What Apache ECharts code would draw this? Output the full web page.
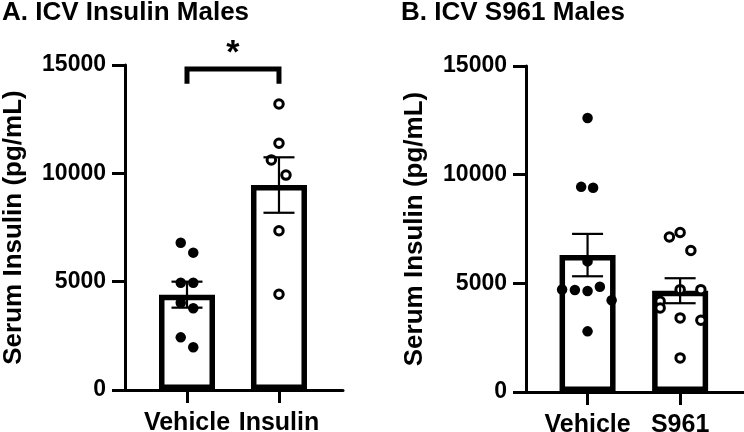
<!DOCTYPE html>
<html>
<head>
<meta charset="utf-8">
<script src="https://cdn.jsdelivr.net/npm/echarts@6/dist/echarts.min.js"></script>
<style>
html,body{margin:0;padding:0;background:#fff;}
#chart{width:744px;height:432px;}
</style>
</head>
<body>
<div id="chart"></div>
<script>
// ---------- data ----------
const titles = ['A. ICV Insulin Males', 'B. ICV S961 Males'];
const yAxisName = 'Serum Insulin (pg/mL)';
const yMin = 0, yMax = 15000, yStep = 5000;

const catsA = ['Vehicle', 'Insulin'];
const meanA = [4400, 9460];
const semA = [600, 1280];
const ptsA_vehicle = [6800, 6340, 4950, 4950, 4030, 3770, 2430, 1970];
const ptsA_insulin = [13200, 11390, 10620, 9920, 7350, 4420];

const catsB = ['Vehicle', 'S961'];
const meanB = [6300, 4660];
const semB = [975, 575];
const ptsB_vehicle = [12610, 9440, 9400, 6010, 4720, 4690, 4650, 4840, 4220, 2790];
const ptsB_s961 = [7130, 7340, 6510, 4710, 4710, 4170, 3870, 3410, 3300, 1570];

const sigA = { from: 1, to: 2, level: 14820, leg: 14130, label: '*' };

// horizontal scatter spread of the dots (in category units)
const jitA_vehicle = [-0.068, 0.068, -0.068, 0.068, -0.068, 0.068, -0.068, 0.068];
const jitA_insulin = [0, 0, -0.083, 0.076, 0, 0];
const jitB_vehicle = [0, -0.069, 0.06, 0, -0.275, -0.137, 0, 0.133, 0.26, 0];
const jitB_s961 = [-0.116, 0, 0.116, 0, 0.224, -0.216, -0.216, 0, 0.224, 0];

// ---------- chart ----------
const FONT = 'Arial, "Liberation Sans", sans-serif';
const chart = echarts.init(document.getElementById('chart'));

function pts(vals, jit, cat) { return vals.map((v, i) => [cat + jit[i], v]); }

function xAxis(gridIndex, cats, min, max) {
  return {
    type: 'value', gridIndex, min, max,
    splitLine: { show: false },
    axisLine: { show: true, onZero: false, lineStyle: { color: '#000', width: 3 } },
    axisTick: { show: true, customValues: [1, 2], length: 13, lineStyle: { color: '#000', width: 3 } },
    axisLabel: {
      customValues: [1, 2], margin: 21,
      formatter: v => cats[Math.round(v) - 1] || '',
      color: '#000', fontFamily: FONT, fontWeight: 'bold', fontSize: 25
    }
  };
}
function yAxis(gridIndex) {
  return {
    type: 'value', gridIndex, min: yMin, max: yMax, interval: yStep,
    name: yAxisName, nameLocation: 'middle', nameGap: 98,
    nameTextStyle: { color: '#000', fontFamily: FONT, fontWeight: 'bold', fontSize: 26 },
    splitLine: { show: false },
    axisLine: { show: true, lineStyle: { color: '#000', width: 3 } },
    axisTick: { show: true, length: 13, lineStyle: { color: '#000', width: 3 } },
    axisLabel: { margin: 19, formatter: v => String(v), color: '#000', fontFamily: FONT, fontWeight: 'bold', fontSize: 23 }
  };
}
function barSeries(idx, means) {
  return {
    type: 'bar', xAxisIndex: idx, yAxisIndex: idx, barWidth: 56, z: 2,
    data: means.map((m, i) => [i + 1, m]),
    itemStyle: { color: '#fff', borderColor: '#000', borderWidth: 5.5 },
    silent: true
  };
}
function dotSeries(idx, data, filled) {
  return {
    type: 'scatter', xAxisIndex: idx, yAxisIndex: idx, z: 3, data,
    symbol: 'circle', symbolSize: filled ? 10.5 : 8.5,
    itemStyle: filled ? { color: '#000', borderWidth: 0, opacity: 1 }
                      : { color: '#fff', borderColor: '#000', borderWidth: 3, opacity: 1 },
    silent: true
  };
}
function errSeries(idx, means, sems) {
  return {
    type: 'custom', xAxisIndex: idx, yAxisIndex: idx, z: 4, silent: true,
    data: means.map((m, i) => [i + 1, m, sems[i]]),
    encode: { x: 0, y: 1 },
    renderItem: (params, api) => {
      const x = api.value(0), m = api.value(1), s = api.value(2);
      const t = api.coord([x, m + s]), b = api.coord([x, m - s]);
      const hw = 15.5, st = { stroke: '#000', lineWidth: 2.2 };
      return { type: 'group', children: [
        { type: 'line', shape: { x1: t[0], y1: t[1], x2: b[0], y2: b[1] }, style: st },
        { type: 'line', shape: { x1: t[0] - hw, y1: t[1], x2: t[0] + hw, y2: t[1] }, style: st },
        { type: 'line', shape: { x1: b[0] - hw, y1: b[1], x2: b[0] + hw, y2: b[1] }, style: st }
      ]};
    }
  };
}

const titleStyle = { color: '#000', fontFamily: FONT, fontWeight: 'bold', fontSize: 26 };
const option = {
  animation: false,
  backgroundColor: '#fff',
  title: [
    { text: titles[0], left: 2, top: 0, padding: 0, textStyle: titleStyle },
    { text: titles[1], left: 401, top: 0, padding: 0, textStyle: titleStyle }
  ],
  grid: [
    { left: 125, top: 65, width: 218, height: 325, containLabel: false, outerBoundsMode: 'none' },
    { left: 526, top: 66, width: 218, height: 326, containLabel: false, outerBoundsMode: 'none' }
  ],
  xAxis: [xAxis(0, catsA, 0.326, 2.696), xAxis(1, catsB, 0.335, 2.69)],
  yAxis: [yAxis(0), yAxis(1)],
  series: [
    barSeries(0, meanA),
    dotSeries(0, pts(ptsA_vehicle, jitA_vehicle, 1), true),
    dotSeries(0, pts(ptsA_insulin, jitA_insulin, 2), false),
    errSeries(0, meanA, semA),
    {
      type: 'custom', xAxisIndex: 0, yAxisIndex: 0, z: 5, silent: true, clip: false,
      data: [[sigA.from, sigA.to, sigA.level, sigA.leg]],
      renderItem: (params, api) => {
        const p1 = api.coord([api.value(0), api.value(2)]);
        const p2 = api.coord([api.value(1), api.value(2)]);
        const l1 = api.coord([api.value(0), api.value(3)]);
        return { type: 'group', children: [
          { type: 'polyline', shape: { points: [[l1[0], l1[1]], p1, p2, [p2[0], l1[1]]] },
            style: { stroke: '#000', lineWidth: 5, fill: null, lineJoin: 'miter' } },
          { type: 'text', style: { text: sigA.label, x: (p1[0] + p2[0]) / 2, y: p1[1] + 2,
              align: 'center', verticalAlign: 'bottom', fill: '#000',
              font: 'bold 34px ' + FONT } }
        ]};
      }
    },
    barSeries(1, meanB),
    dotSeries(1, pts(ptsB_vehicle, jitB_vehicle, 1), true),
    dotSeries(1, pts(ptsB_s961, jitB_s961, 2), false),
    errSeries(1, meanB, semB)
  ]
};
chart.setOption(option);
</script>
</body>
</html>
